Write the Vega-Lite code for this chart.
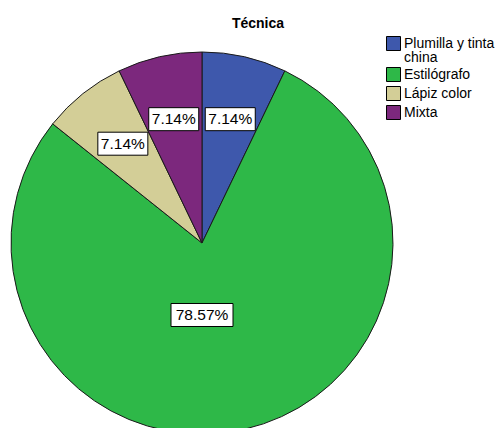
{
  "$schema": "https://vega.github.io/schema/vega-lite/v6.json",
  "width": 502,
  "height": 398,
  "autosize": {"type": "none"},
  "padding": {"top": 30, "left": 0, "right": 0, "bottom": 0},
  "background": "white",
  "config": {"view": {"stroke": null}, "font": "Liberation Sans", "style": {"guide-label": {"lineHeight": 14}}},
  "title": {"text": "Técnica", "fontSize": 14, "fontWeight": "bold", "font": "Liberation Sans", "color": "black", "anchor": "middle", "frame": "group", "dx": 7, "dy": 14, "offset": 2, "baseline": "alphabetic"},
  "data": {
    "values": [
      {"tecnica": "Plumilla y tinta china", "pct": 7.14, "order": 1},
      {"tecnica": "Estilógrafo", "pct": 78.57, "order": 2},
      {"tecnica": "Lápiz color", "pct": 7.14, "order": 3},
      {"tecnica": "Mixta", "pct": 7.14, "order": 4}
    ]
  },
  "transform": [
    {"window": [{"op": "sum", "field": "pct", "as": "cum"}], "sort": [{"field": "order"}], "frame": [null, 0]},
    {"joinaggregate": [{"op": "sum", "field": "pct", "as": "total"}]},
    {"calculate": "datum.pct > 50 ? PI : 2*PI*(datum.cum - datum.pct/2)/datum.total", "as": "mid"},
    {"calculate": "datum.pct > 50 ? 72 : 127", "as": "lr"},
    {"calculate": "datum.lr*sin(datum.mid)", "as": "lx"},
    {"calculate": "datum.lr*cos(datum.mid)", "as": "ly"},
    {"calculate": "format(datum.pct, '.2f') + '%'", "as": "label"},
    {"calculate": "6*length(datum.label)-5", "as": "hw"},
    {"calculate": "datum.lx - datum.hw", "as": "bx1"},
    {"calculate": "datum.lx + datum.hw", "as": "bx2"},
    {"calculate": "datum.ly - 11.5", "as": "by1"},
    {"calculate": "datum.ly + 11.5", "as": "by2"}
  ],
  "layer": [
    {
      "mark": {"type": "arc", "outerRadius": 191, "stroke": "#1a1a1a", "strokeWidth": 1},
      "encoding": {
        "theta": {"field": "pct", "type": "quantitative", "stack": true},
        "order": {"field": "order", "type": "quantitative"},
        "x": {"datum": 0, "type": "quantitative", "scale": {"domain": [-202, 300], "nice": false, "zero": false}, "axis": null},
        "y": {"datum": 0, "type": "quantitative", "scale": {"domain": [-185, 213], "nice": false, "zero": false}, "axis": null},
        "color": {
          "field": "tecnica",
          "type": "nominal",
          "scale": {
            "domain": ["Plumilla y tinta china", "Estilógrafo", "Lápiz color", "Mixta"],
            "range": ["#3E58AC", "#2EB848", "#D3CE97", "#7C287D"]
          },
          "legend": {
            "title": null,
            "orient": "none",
            "legendX": 386,
            "legendY": 6,
            "symbolType": "square",
            "symbolSize": 196,
            "symbolStrokeColor": "black",
            "symbolStrokeWidth": 1,
            "symbolOpacity": 1,
            "labelFontSize": 14,
            "labelFont": "Liberation Sans",
            "labelColor": "black",
            "labelOffset": 3,
            "labelLimit": 200,
            "rowPadding": 0,
            "labelExpr": "datum.label == 'Plumilla y tinta china' ? ['Plumilla y tinta', 'china'] : datum.label"
          }
        }
      }
    },
    {
      "mark": {"type": "rect", "fill": "white", "stroke": "black", "strokeWidth": 1},
      "encoding": {
        "x": {"field": "bx1", "type": "quantitative"},
        "x2": {"field": "bx2"},
        "y": {"field": "by1", "type": "quantitative"},
        "y2": {"field": "by2"}
      }
    },
    {
      "mark": {"type": "text", "font": "Liberation Sans", "fontSize": 15.5, "color": "black", "align": "center", "baseline": "middle"},
      "encoding": {
        "x": {"field": "lx", "type": "quantitative"},
        "y": {"field": "ly", "type": "quantitative"},
        "text": {"field": "label"}
      }
    }
  ]
}
